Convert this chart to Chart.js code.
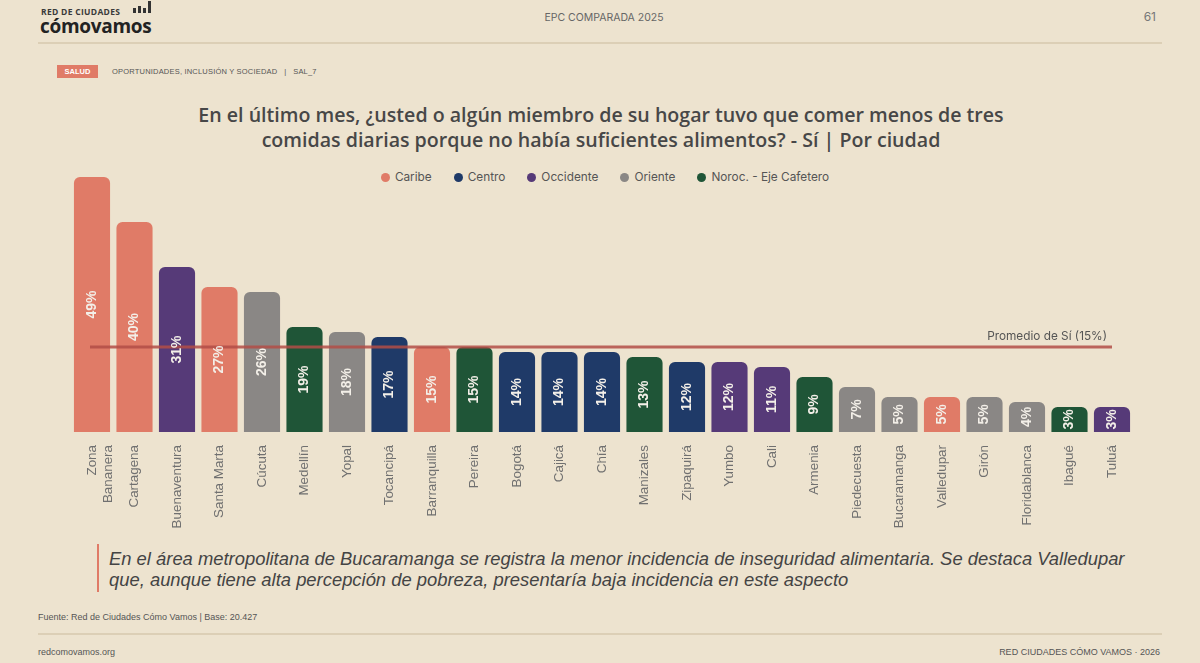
<!DOCTYPE html>
<html lang="es">
<head>
<meta charset="utf-8">
<script src="https://cdn.jsdelivr.net/npm/chart.js@4.4.1/dist/chart.umd.min.js"></script>
<style>
  html, body { margin:0; padding:0; }
  body { width:1200px; height:663px; background:#ede3cf; position:relative; overflow:hidden; font-family:"Liberation Sans", Arial, sans-serif; color:#4a4a4a; }
  .abs { position:absolute; }
  #brand1 { left:41px; top:6px; font:bold 8.5px "Open Sans", sans-serif; letter-spacing:0.3px; color:#3a3a3a; }
  #brand2 { left:40px; top:13px; font:bold 19px "Open Sans", sans-serif; color:#222; letter-spacing:-0.3px; }
  #icon { left:133px; top:1px; width:20px; height:12px; }
  #icon span { position:absolute; bottom:0; width:3px; background:#333; }
  #hdrc { left:0; width:1208px; top:11px; text-align:center; font:10.5px "Inter", sans-serif; color:#666; }
  #page { right:44px; top:9px; font:12px "Inter", sans-serif; color:#777; }
  .rule { left:38px; width:1124px; height:2px; background:#dccfb6; }
  #tag { left:57px; top:65px; width:41px; height:13px; background:#e07b67; color:#fff; font:bold 7.5px "Liberation Sans", sans-serif; line-height:13px; text-align:center; }
  #tagtxt { left:112px; top:67px; font:7.5px "Liberation Sans", sans-serif; color:#555; letter-spacing:0.2px; }
  #title { left:0; width:1202px; top:102px; text-align:center; font:600 19.6px/25px "Open Sans", sans-serif; color:#474747; }
  #legend { left:0; width:1210px; top:170px; display:flex; justify-content:center; gap:22px; font:11.8px "Inter", sans-serif; color:#555; }
  #legend .it { display:flex; align-items:center; gap:5px; }
  #legend .dot { width:9px; height:9px; border-radius:50%; display:inline-block; }
  #note { left:97px; top:544px; border-left:2px solid #e07b67; padding-left:10px; font:italic 18.4px/21px "Liberation Sans", Arial, sans-serif; color:#444; width:1080px; padding-top:4px; padding-bottom:2px; }
  #src { left:38px; top:612px; font:9px "Liberation Sans", sans-serif; color:#555; }
  #url { left:38px; top:647px; font:9px "Liberation Sans", sans-serif; color:#555; }
  #copy { right:40px; top:647px; font:9px "Liberation Sans", sans-serif; color:#555; }
  #chartwrap { left:0; top:160px; width:1200px; height:380px; }
</style>
</head>
<body>
<div class="abs" id="brand1">RED DE CIUDADES</div>
<div class="abs" id="icon"><span style="left:0;height:5px"></span><span style="left:5px;height:7px"></span><span style="left:10px;height:5px"></span><span style="left:15px;height:12px"></span></div>
<div class="abs" id="brand2">cómovamos</div>
<div class="abs" id="hdrc">EPC COMPARADA 2025</div>
<div class="abs" id="page">61</div>
<div class="abs rule" style="top:42px"></div>
<div class="abs" id="tag">SALUD</div>
<div class="abs" id="tagtxt">OPORTUNIDADES, INCLUSIÓN Y SOCIEDAD &nbsp;&nbsp;|&nbsp;&nbsp; SAL_7</div>
<div class="abs" id="title">En el último mes, ¿usted o algún miembro de su hogar tuvo que comer menos de tres<br>comidas diarias porque no había suficientes alimentos? - Sí | Por ciudad</div>
<div class="abs" id="legend"></div>
<div class="abs" id="chartwrap"><canvas id="c" width="1200" height="380"></canvas></div>
<div class="abs" id="note">En el área metropolitana de Bucaramanga se registra la menor incidencia de inseguridad alimentaria. Se destaca Valledupar<br>que, aunque tiene alta percepción de pobreza, presentaría baja incidencia en este aspecto</div>
<div class="abs" id="src">Fuente: Red de Ciudades Cómo Vamos | Base: 20.427</div>
<div class="abs rule" style="top:633px"></div>
<div class="abs" id="url">redcomovamos.org</div>
<div class="abs" id="copy">RED CIUDADES CÓMO VAMOS · 2026</div>

<script>
// ---- Data ----
const cities = [["Zona","Bananera"], "Cartagena", "Buenaventura", "Santa Marta", "Cúcuta", "Medellín", "Yopal", "Tocancipá", "Barranquilla", "Pereira", "Bogotá", "Cajicá", "Chía", "Manizales", "Zipaquirá", "Yumbo", "Cali", "Armenia", "Piedecuesta", "Bucaramanga", "Valledupar", "Girón", "Floridablanca", "Ibagué", "Tuluá"];
const values = [49, 40, 31, 27, 26, 19, 18, 17, 15, 15, 14, 14, 14, 13, 12, 12, 11, 9, 7, 5, 5, 5, 4, 3, 3];
const cityRegion = ["Caribe", "Caribe", "Occidente", "Caribe", "Oriente", "Noroc. - Eje Cafetero", "Oriente", "Centro", "Caribe", "Noroc. - Eje Cafetero", "Centro", "Centro", "Centro", "Noroc. - Eje Cafetero", "Centro", "Occidente", "Occidente", "Noroc. - Eje Cafetero", "Oriente", "Oriente", "Caribe", "Oriente", "Oriente", "Noroc. - Eje Cafetero", "Occidente"];
const regions = ["Caribe", "Centro", "Occidente", "Oriente", "Noroc. - Eje Cafetero"];
const regionColors = ["#e07b67", "#1f3a68", "#563a78", "#8a8785", "#1f5537"];
const averageValue = 15;
const averageLabel = "Promedio de Sí (15%)";

// ---- Legend (HTML) ----
const lg = document.getElementById('legend');
regions.forEach((r, i) => {
  const it = document.createElement('span'); it.className = 'it';
  const d = document.createElement('span'); d.className = 'dot'; d.style.background = regionColors[i];
  const t = document.createElement('span'); t.textContent = r;
  it.appendChild(d); it.appendChild(t); lg.appendChild(it);
});

const datasets = regions.map((r, ri) => ({
  label: r,
  data: values.map((v, i) => cityRegion[i] === r ? v : null),
  backgroundColor: regionColors[ri],
  borderRadius: 6,
  borderSkipped: 'bottom',
  base: -2,
  categoryPercentage: 0.85,
  barPercentage: 1,
  skipNull: true
}));

const overlay = {
  id: 'overlay',
  afterDatasetsDraw(chart) {
    const { ctx, scales: { x, y } } = chart;
    // average line
    const yy = y.getPixelForValue(averageValue);
    const x0 = x.getPixelForValue(0) - 2, x1 = x.getPixelForValue(values.length - 1);
    ctx.save();
    ctx.strokeStyle = 'rgba(178,78,70,0.85)';
    ctx.lineWidth = 3;
    ctx.beginPath(); ctx.moveTo(x0, yy); ctx.lineTo(x1, yy); ctx.stroke();
    ctx.fillStyle = '#555';
    ctx.font = '11.8px Inter, sans-serif';
    ctx.textAlign = 'right'; ctx.textBaseline = 'bottom';
    ctx.fillText(averageLabel, x1 - 5, yy - 5);
    // value labels
    chart.data.datasets.forEach((ds, di) => {
      const meta = chart.getDatasetMeta(di);
      meta.data.forEach((el, i) => {
        const v = ds.data[i];
        if (v === null || v === undefined) return;
        const cy = (el.y + el.base) / 2;
        ctx.save();
        ctx.translate(el.x, cy);
        ctx.rotate(-Math.PI / 2);
        ctx.fillStyle = '#f3efe8';
        ctx.font = 'bold 14px "Liberation Sans", Arial, sans-serif';
        ctx.textAlign = 'center'; ctx.textBaseline = 'middle';
        ctx.fillText(v + '%', 0, 0);
        ctx.restore();
      });
    });
    ctx.restore();
  }
};

new Chart(document.getElementById('c'), {
  type: 'bar',
  data: { labels: cities, datasets },
  options: {
    responsive: false,
    devicePixelRatio: 1,
    animation: false,
    layout: { padding: { left: 70.75, right: 66.75, top: 12, bottom: 8 } },
    plugins: { legend: { display: false }, tooltip: { enabled: false } },
    scales: {
      x: {
        grid: { display: false },
        border: { display: false },
        ticks: {
          autoSkip: false, maxRotation: 90, minRotation: 90,
          color: '#707070', padding: 5,
          font: { family: '"Liberation Sans", Arial, sans-serif', size: 13.4 }
        },
        afterFit(scale) { scale.height = 100; }
      },
      y: {
        display: false,
        min: -2, max: 50,
        afterFit(scale) { scale.width = 0; }
      }
    }
  },
  plugins: [overlay]
});
</script>
</body>
</html>
